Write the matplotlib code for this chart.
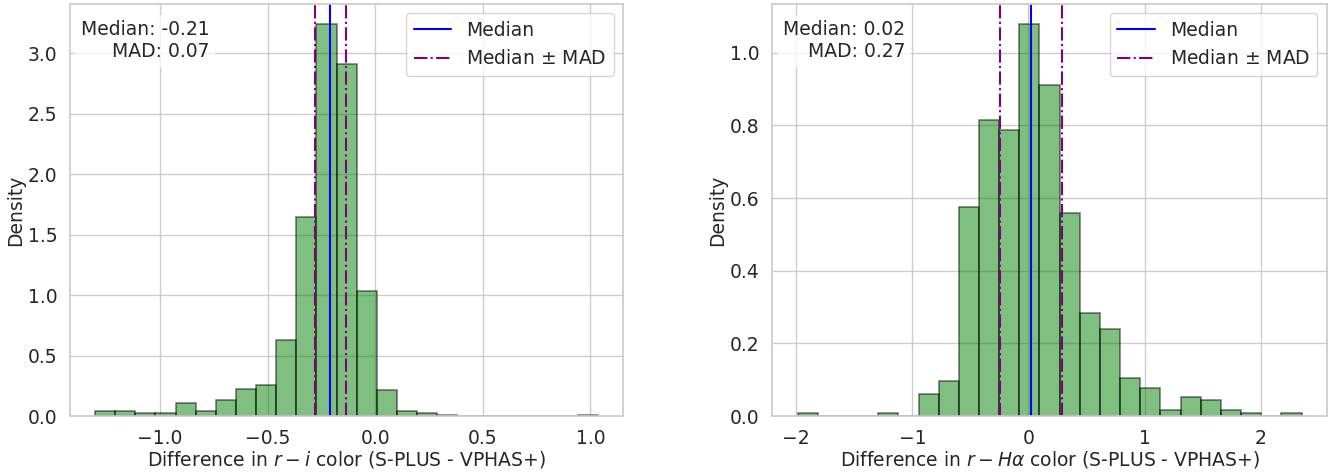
import numpy as np
import matplotlib
matplotlib.use('Agg')
import matplotlib.pyplot as plt
import seaborn as sns

sns.set_theme(style='whitegrid')
plt.rcParams['font.family'] = ['DejaVu Sans']

# r - i panel: 25 bins, density values
ri_edges_lo, ri_edges_hi = -1.301, 1.036
ri_density = [0.041, 0.041, 0.025, 0.025, 0.105, 0.041, 0.133, 0.224, 0.257, 0.628,
              1.646, 3.245, 2.909, 1.035, 0.215, 0.041, 0.025, 0.0083, 0, 0,
              0, 0, 0, 0, 0.0083]
ri_median = -0.2076
ri_mad = 0.074

# r - Halpha panel
rha_edges_lo, rha_edges_hi = -1.989, 2.353
rha_density = [0.0083, 0, 0, 0, 0.0083, 0, 0.0606, 0.0963, 0.575, 0.814,
               0.788, 1.080, 0.911, 0.558, 0.283, 0.239, 0.1046, 0.078, 0.0165, 0.0514,
               0.0431, 0.0165, 0.0083, 0, 0.0083]
rha_median = 0.024
rha_mad = 0.266

xlabels = [r'Difference in $r - i$ color (S-PLUS - VPHAS+)',
           r'Difference in $r - H\alpha$ color (S-PLUS - VPHAS+)']

FS = 13.5

fig = plt.figure(figsize=(13.43, 4.72), dpi=100)
ax1 = fig.add_axes([0.0521, 0.1186, 0.412, 0.873])
ax2 = fig.add_axes([0.5751, 0.1186, 0.4128, 0.873])


def panel(ax, lo, hi, dens, med, mad, xlabel):
    edges = np.linspace(lo, hi, len(dens) + 1)
    centers = 0.5 * (edges[:-1] + edges[1:])
    ax.hist(centers, bins=edges, weights=dens, color='green', alpha=0.5,
            edgecolor='black', linewidth=1.2)
    ax.axvline(med, color='blue', lw=1.5, label='Median')
    ax.axvline(med - mad, color='purple', ls='-.', lw=1.5, label=r'Median $\pm$ MAD')
    ax.axvline(med + mad, color='purple', ls='-.', lw=1.5)
    ax.text(0.02, 0.96, f'Median: {med:.2f}\nMAD: {mad:.2f}', transform=ax.transAxes,
            ha='left', va='top', multialignment='right', fontsize=FS,
            bbox=dict(facecolor='white', edgecolor='none', alpha=0.8))
    ax.legend(loc='upper right', fontsize=FS)
    ax.set_xlabel(xlabel, fontsize=FS, labelpad=1)
    ax.set_ylabel('Density', fontsize=FS, labelpad=2)
    ax.tick_params(labelsize=FS, pad=3)


panel(ax1, ri_edges_lo, ri_edges_hi, ri_density, ri_median, ri_mad, xlabels[0])
panel(ax2, rha_edges_lo, rha_edges_hi, rha_density, rha_median, rha_mad, xlabels[1])

fig.savefig('out.png', dpi=100)
